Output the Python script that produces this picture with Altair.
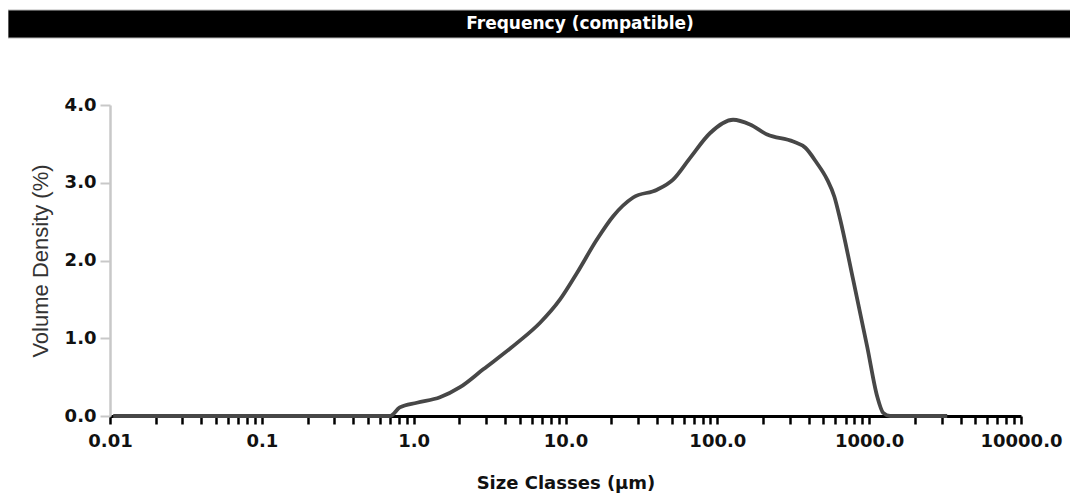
import altair as alt
import pandas as pd

# Size classes (µm) and volume density (%)
size_um = [0.0105, 0.70, 0.81, 1.05, 1.49, 2.02, 2.87, 4.80, 6.80, 9.21, 11.9, 16.1,
           20.6, 27.9, 40.1, 51.1, 66.2, 89.7, 127, 164, 213, 316, 380, 450, 529,
           590, 644, 785, 971, 1130, 1237, 1375, 3266]
density = [0.0, 0.0, 0.11, 0.17, 0.24, 0.37, 0.60, 0.94, 1.20, 1.50, 1.84, 2.27,
           2.57, 2.81, 2.91, 3.04, 3.32, 3.64, 3.81, 3.75, 3.62, 3.53, 3.45, 3.26, 3.04,
           2.82, 2.53, 1.75, 0.89, 0.25, 0.04, 0.0, 0.0]

y_ticks = [0.0, 1.0, 2.0, 3.0, 4.0]
decades = [0.01, 0.1, 1, 10, 100, 1000, 10000]
x_ticks = [m * d for d in decades[:-1] for m in range(1, 10)] + [decades[-1]]

title_text = "Frequency (compatible)"
x_title = "Size Classes (µm)"
y_title = "Volume Density (%)"

df = pd.DataFrame({"size": size_um, "density": density})

label_expr = (
    "datum.value == 0.01 ? '0.01' : datum.value == 0.1 ? '0.1' : "
    "(indexof([1,10,100,1000,10000], datum.value) >= 0 ? format(datum.value, '.1f') : '')"
)

line = alt.Chart(df).mark_line(
    color="#474747", strokeWidth=3.8, interpolate="monotone"
).encode(
    x=alt.X(
        "size:Q",
        scale=alt.Scale(type="log", domain=[0.01, 10000]),
        axis=alt.Axis(
            values=x_ticks,
            labelExpr=label_expr,
            title=x_title,
            grid=False,
            domainColor="#000000",
            domainWidth=3,
            tickColor="#000000",
            tickWidth=2.5,
            tickSize=8,
            labelFont="DejaVu Sans",
            labelFontWeight="bold",
            labelFontSize=18,
            labelColor="#111111",
            labelPadding=8,
            labelOverlap=False,
            labelFlush=False,
            titleFont="DejaVu Sans",
            titleFontWeight="bold",
            titleFontSize=18,
            titleColor="#111111",
            titlePadding=24,
        ),
    ),
    y=alt.Y(
        "density:Q",
        scale=alt.Scale(domain=[0, 4]),
        axis=alt.Axis(
            values=y_ticks,
            format=".1f",
            title=y_title,
            grid=False,
            domainColor="#c8c8c8",
            domainWidth=2.5,
            tickColor="#c8c8c8",
            tickWidth=2,
            tickSize=10,
            labelFont="DejaVu Sans",
            labelFontWeight="bold",
            labelFontSize=18,
            labelColor="#111111",
            labelPadding=4,
            titleFont="Liberation Sans",
            titleFontWeight="normal",
            titleFontSize=22,
            titleColor="#333333",
            titlePadding=12,
        ),
    ),
)

deco = alt.Data(values=[{"t": title_text}])

bar = alt.Chart(deco).mark_rect(
    color="#000000", stroke="#b5b5b5", strokeWidth=1
).encode(
    x=alt.value(-102), x2=alt.value(962), y=alt.value(-95), y2=alt.value(-67)
)

bar_text = alt.Chart(deco).mark_text(
    color="#ffffff", font="DejaVu Sans", fontWeight="bold", fontSize=17,
    align="center", baseline="middle"
).encode(
    x=alt.value(470), y=alt.value(-81), text="t:N"
)

chart = alt.layer(bar, bar_text, line).properties(
    width=911,
    height=311,
    background="#ffffff",
    autosize=alt.AutoSizeParams(type="none"),
    padding={"left": 102, "top": 97, "right": 49, "bottom": 80},
).configure_view(strokeWidth=0, stroke="transparent")

chart.save("out.html", embed_options={"renderer": "svg", "actions": False})
